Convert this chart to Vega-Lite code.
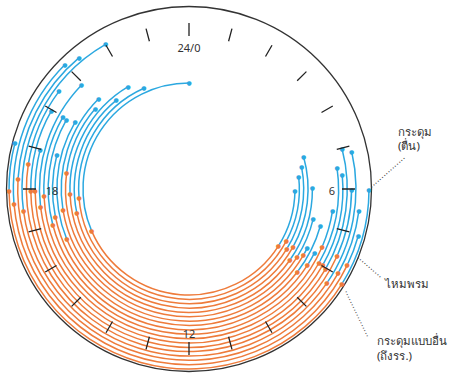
{
  "$schema": "https://vega.github.io/schema/vega-lite/v6.json",
  "width": 366,
  "height": 366,
  "autosize": "none",
  "padding": {"left": 6, "top": 6, "right": 78, "bottom": 5},
  "background": "white",
  "config": {"view": {"stroke": null}},
  "datasets": {
    "days": [
      {"ring": 0, "wake": 6.07, "arrive": 8.17, "leave": 16.45, "sleep": 24.0},
      {"ring": 1, "wake": 5.58, "arrive": 7.87, "leave": 17.68, "sleep": 22.39},
      {"ring": 2, "wake": 5.26, "arrive": 8.10, "leave": 17.20, "sleep": 21.37},
      {"ring": 3, "wake": 4.95, "arrive": 7.94, "leave": 17.84, "sleep": 21.95},
      {"ring": 4, "wake": 5.97, "arrive": 8.34, "leave": 18.49, "sleep": 20.71},
      {"ring": 5, "wake": 6.91, "arrive": 8.15, "leave": 17.36, "sleep": 21.0},
      {"ring": 6, "wake": 7.77, "arrive": 8.00, "leave": 16.51, "sleep": 20.03},
      {"ring": 7, "wake": 7.05, "arrive": 8.49, "leave": 17.21, "sleep": 18.97},
      {"ring": 8, "wake": 7.79, "arrive": 8.19, "leave": 17.02, "sleep": 19.97},
      {"ring": 9, "wake": 6.58, "arrive": 7.57, "leave": 17.81, "sleep": 19.98},
      {"ring": 10, "wake": 5.46, "arrive": 7.97, "leave": 17.53, "sleep": 20.93},
      {"ring": 11, "wake": 5.65, "arrive": 7.97, "leave": 17.95, "sleep": 18.97},
      {"ring": 12, "wake": 5.03, "arrive": 8.02, "leave": 17.95, "sleep": 19.97},
      {"ring": 13, "wake": 6.02, "arrive": 7.63, "leave": 18.60, "sleep": 20.46},
      {"ring": 14, "wake": 5.14, "arrive": 8.29, "leave": 17.49, "sleep": 22.0},
      {"ring": 15, "wake": 6.49, "arrive": 7.96, "leave": 18.23, "sleep": 21.34},
      {"ring": 16, "wake": 7.03, "arrive": 7.72, "leave": 17.67, "sleep": 21.0},
      {"ring": 17, "wake": 6.02, "arrive": 8.12, "leave": 17.95, "sleep": 18.98}
    ],
    "hours": [
      {"h": 0}, {"h": 1}, {"h": 2}, {"h": 3}, {"h": 4}, {"h": 5}, {"h": 6}, {"h": 7},
      {"h": 8}, {"h": 9}, {"h": 10}, {"h": 11}, {"h": 12}, {"h": 13}, {"h": 14}, {"h": 15},
      {"h": 16}, {"h": 17}, {"h": 18}, {"h": 19}, {"h": 20}, {"h": 21}, {"h": 22}, {"h": 23}
    ],
    "labels": [
      {"h": 0, "label": "24/0"},
      {"h": 6, "label": "6"},
      {"h": 12, "label": "12"},
      {"h": 18, "label": "18"}
    ]
  },
  "layer": [
    {
      "data": {"values": [{}]},
      "mark": {"type": "arc", "theta": 0, "theta2": 6.2832, "radius": 182.5, "radius2": 182.5, "fill": null, "stroke": "#333333", "strokeWidth": 1.3},
      "encoding": {}
    },
    {
      "data": {"name": "days"},
      "mark": {"type": "arc", "fill": null, "stroke": "#2BA8E0", "strokeWidth": 1.5},
      "encoding": {
        "theta": {"field": "wake", "type": "quantitative", "stack": null, "scale": {"domain": [0, 24], "range": [0, 6.283185307]}},
        "theta2": {"field": "arrive"},
        "radius": {"field": "ring", "type": "quantitative", "scale": {"type": "linear", "domain": [0, 17], "range": [106, 180], "zero": false}},
        "radius2": {"field": "ring"}
      }
    },
    {
      "data": {"name": "days"},
      "mark": {"type": "arc", "fill": null, "stroke": "#2BA8E0", "strokeWidth": 1.5},
      "encoding": {
        "theta": {"field": "leave", "type": "quantitative", "stack": null, "scale": {"domain": [0, 24], "range": [0, 6.283185307]}},
        "theta2": {"field": "sleep"},
        "radius": {"field": "ring", "type": "quantitative", "scale": {"type": "linear", "domain": [0, 17], "range": [106, 180], "zero": false}},
        "radius2": {"field": "ring"}
      }
    },
    {
      "data": {"name": "days"},
      "mark": {"type": "arc", "fill": null, "stroke": "#EE7B3B", "strokeWidth": 1.5},
      "encoding": {
        "theta": {"field": "arrive", "type": "quantitative", "stack": null, "scale": {"domain": [0, 24], "range": [0, 6.283185307]}},
        "theta2": {"field": "leave"},
        "radius": {"field": "ring", "type": "quantitative", "scale": {"type": "linear", "domain": [0, 17], "range": [106, 180], "zero": false}},
        "radius2": {"field": "ring"}
      }
    },
    {
      "data": {"name": "days"},
      "mark": {"type": "text", "text": "●", "font": "DejaVu Sans", "fontSize": 6, "color": "#2BA8E0", "align": "center", "baseline": "middle"},
      "encoding": {
        "theta": {"field": "wake", "type": "quantitative", "stack": null, "scale": {"domain": [0, 24], "range": [0, 6.283185307]}},
        "radius": {"field": "ring", "type": "quantitative", "scale": {"type": "linear", "domain": [0, 17], "range": [106, 180], "zero": false}}
      }
    },
    {
      "data": {"name": "days"},
      "mark": {"type": "text", "text": "●", "font": "DejaVu Sans", "fontSize": 6, "color": "#2BA8E0", "align": "center", "baseline": "middle"},
      "encoding": {
        "theta": {"field": "sleep", "type": "quantitative", "stack": null, "scale": {"domain": [0, 24], "range": [0, 6.283185307]}},
        "radius": {"field": "ring", "type": "quantitative", "scale": {"type": "linear", "domain": [0, 17], "range": [106, 180], "zero": false}}
      }
    },
    {
      "data": {"name": "days"},
      "mark": {"type": "text", "text": "●", "font": "DejaVu Sans", "fontSize": 6, "color": "#EE7B3B", "align": "center", "baseline": "middle"},
      "encoding": {
        "theta": {"field": "arrive", "type": "quantitative", "stack": null, "scale": {"domain": [0, 24], "range": [0, 6.283185307]}},
        "radius": {"field": "ring", "type": "quantitative", "scale": {"type": "linear", "domain": [0, 17], "range": [106, 180], "zero": false}}
      }
    },
    {
      "data": {"name": "days"},
      "mark": {"type": "text", "text": "●", "font": "DejaVu Sans", "fontSize": 6, "color": "#EE7B3B", "align": "center", "baseline": "middle"},
      "encoding": {
        "theta": {"field": "leave", "type": "quantitative", "stack": null, "scale": {"domain": [0, 24], "range": [0, 6.283185307]}},
        "radius": {"field": "ring", "type": "quantitative", "scale": {"type": "linear", "domain": [0, 17], "range": [106, 180], "zero": false}}
      }
    },
    {
      "data": {"name": "hours"},
      "mark": {"type": "arc", "radius": 166, "radius2": 153, "fill": null, "stroke": "#222222", "strokeWidth": 1.3},
      "encoding": {
        "theta": {"field": "h", "type": "quantitative", "stack": null, "scale": {"domain": [0, 24], "range": [0, 6.283185307]}},
        "theta2": {"field": "h"}
      }
    },
    {
      "data": {"name": "labels"},
      "transform": [{"filter": "datum.h != 18"}],
      "mark": {"type": "text", "radius": 143, "dy": 2.5, "font": "Noto Sans", "fontSize": 11, "color": "#333333", "align": "center", "baseline": "middle"},
      "encoding": {
        "theta": {"field": "h", "type": "quantitative", "stack": null, "scale": {"domain": [0, 24], "range": [0, 6.283185307]}},
        "text": {"field": "label"}
      }
    },
    {
      "data": {"name": "labels"},
      "transform": [{"filter": "datum.h == 18"}],
      "mark": {"type": "text", "radius": 137, "dy": 2.5, "font": "Noto Sans", "fontSize": 11, "color": "#333333", "align": "center", "baseline": "middle"},
      "encoding": {
        "theta": {"field": "h", "type": "quantitative", "stack": null, "scale": {"domain": [0, 24], "range": [0, 6.283185307]}},
        "text": {"field": "label"}
      }
    },
    {
      "data": {"values": [{}]},
      "mark": {"type": "text", "text": ["กระดุม", "(ตื่น)"], "radius": 216.4, "align": "left", "baseline": "middle", "fontSize": 11.5, "lineHeight": 14, "font": "Noto Sans", "color": "#333333"},
      "encoding": {"theta": {"datum": 5.0, "type": "quantitative", "scale": {"domain": [0, 24], "range": [0, 6.283185307]}}}
    },
    {
      "data": {"values": [{}]},
      "mark": {"type": "text", "text": "ไหมพรม", "radius": 218.5, "align": "left", "baseline": "middle", "fontSize": 11.5, "font": "Noto Sans", "color": "#333333"},
      "encoding": {"theta": {"datum": 7.74, "type": "quantitative", "scale": {"domain": [0, 24], "range": [0, 6.283185307]}}}
    },
    {
      "data": {"values": [{}]},
      "mark": {"type": "text", "text": ["กระดุมแบบอื่น", "(ถึงรร.)"], "radius": 242.4, "align": "left", "baseline": "middle", "fontSize": 11.5, "lineHeight": 15, "font": "Noto Sans", "color": "#333333"},
      "encoding": {"theta": {"datum": 8.61, "type": "quantitative", "scale": {"domain": [0, 24], "range": [0, 6.283185307]}}}
    },
    {
      "data": {"values": [{}]},
      "mark": {"type": "text", "text": "················", "radius": 199.6, "angle": 318.6, "align": "center", "baseline": "middle", "fontSize": 9, "font": "DejaVu Sans", "color": "#444444"},
      "encoding": {"theta": {"datum": 5.69, "type": "quantitative", "scale": {"domain": [0, 24], "range": [0, 6.283185307]}}}
    },
    {
      "data": {"values": [{}]},
      "mark": {"type": "text", "text": "···········", "radius": 196.4, "angle": 41, "align": "center", "baseline": "middle", "fontSize": 9, "font": "DejaVu Sans", "color": "#444444"},
      "encoding": {"theta": {"datum": 7.57, "type": "quantitative", "scale": {"domain": [0, 24], "range": [0, 6.283185307]}}}
    },
    {
      "data": {"values": [{}]},
      "mark": {"type": "text", "text": "··················", "radius": 209, "angle": 64.4, "align": "center", "baseline": "middle", "fontSize": 9, "font": "DejaVu Sans", "color": "#444444"},
      "encoding": {"theta": {"datum": 8.45, "type": "quantitative", "scale": {"domain": [0, 24], "range": [0, 6.283185307]}}}
    }
  ]
}
